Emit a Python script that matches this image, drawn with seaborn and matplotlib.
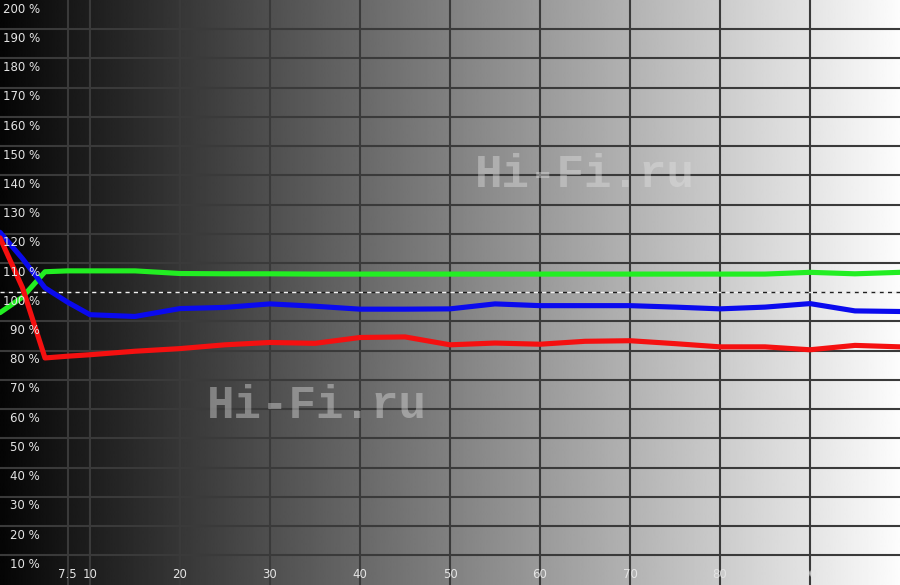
import numpy as np
import pandas as pd
import matplotlib
matplotlib.use("Agg")
import matplotlib.pyplot as plt
import seaborn as sns

# ---- data ----
x_pts = [0, 2.5, 5, 7.5, 10, 15, 20, 25, 30, 35, 40, 45, 50, 55, 60, 65, 70, 75, 80, 85, 90, 95, 100]
green = [93.0, 98.3, 107.0, 107.3, 107.3, 107.3, 106.4, 106.3, 106.3, 106.2, 106.2, 106.2, 106.2,
         106.2, 106.2, 106.2, 106.2, 106.2, 106.2, 106.2, 106.8, 106.3, 106.8]
blue = [120.5, 111.5, 101.5, 96.6, 92.3, 91.7, 94.4, 94.8, 96.0, 95.2, 94.2, 94.2, 94.3, 96.0,
        95.4, 95.4, 95.4, 94.9, 94.3, 94.9, 96.1, 93.6, 93.4]
red = [118.6, 101.5, 77.5, 78.1, 78.6, 79.8, 80.7, 82.0, 82.8, 82.5, 84.5, 84.7, 82.0, 82.6,
       82.2, 83.2, 83.4, 82.4, 81.3, 81.3, 80.3, 81.8, 81.3]
x_ticks = [7.5, 10, 20, 30, 40, 50, 60, 70, 80, 90]
x_tick_labels = ["7.5", "10", "20", "30", "40", "50", "60", "70", "80", "90"]
y_ticks = list(range(10, 201, 10))
y_tick_labels = [f"{v} %" for v in y_ticks]
watermark = "Hi-Fi.ru"

df = pd.DataFrame({
    "x": x_pts * 3,
    "value": green + blue + red,
    "channel": ["G"] * len(x_pts) + ["B"] * len(x_pts) + ["R"] * len(x_pts),
})

sns.set_theme(style="white")
plt.rcParams["font.family"] = ["DejaVu Sans"]

fig = plt.figure(figsize=(9, 5.85), dpi=100)
ax = fig.add_axes([0, 0, 1, 1])
ax.set_xlim(0, 100)
ax.set_ylim(-0.2, 200)

# gradient background: black -> white
grad = np.linspace(0.02, 0.99, 600).reshape(1, -1)
ax.imshow(grad, cmap="gray", vmin=0, vmax=1, extent=[0, 100, -0.2, 200],
          aspect="auto", zorder=0, interpolation="bilinear")

# grid
for xv in x_ticks:
    ax.axvline(xv, color="#3a3a3a", lw=1.5, zorder=1)
for yv in y_ticks:
    if yv in (100, 200):
        continue
    ax.axhline(yv, color="#3a3a3a", lw=1.5, zorder=1)
# reference line at 100 %: alternating light / dark dashes
ax.axhline(100, color="#f0f0f0", gapcolor="#202020", lw=1.0,
           linestyle=(0, (3, 3)), zorder=2)

# watermarks
for wx, wy in [(65, 140), (35.2, 61)]:
    ax.text(wx, wy, watermark, fontsize=33, fontweight="bold", family="Liberation Mono",
            color="#e0e0e0", alpha=0.42, ha="center", va="center", zorder=2)

# curves
sns.lineplot(data=df, x="x", y="value", hue="channel", hue_order=["G", "B", "R"],
             palette={"G": "#22ee22", "B": "#0a0aee", "R": "#f51010"},
             lw=3.7, legend=False, ax=ax, zorder=3, estimator=None, sort=False)

# y labels (inside, just below each grid line)
for yv, lab in zip(y_ticks, y_tick_labels):
    ax.text(4.45, yv - 0.9, lab, fontsize=8.5, color="#e4e4e4", ha="right", va="top", zorder=4)
# x labels (inside, bottom)
for xv, lab in zip(x_ticks, x_tick_labels):
    ax.text(xv, 3.4, lab, fontsize=8.5, color="#e4e4e4", ha="center", va="center", zorder=4)

ax.set_xlabel("")
ax.set_ylabel("")
ax.set_xticks([])
ax.set_yticks([])
for s in ax.spines.values():
    s.set_visible(False)

fig.savefig("out.png", dpi=100)
